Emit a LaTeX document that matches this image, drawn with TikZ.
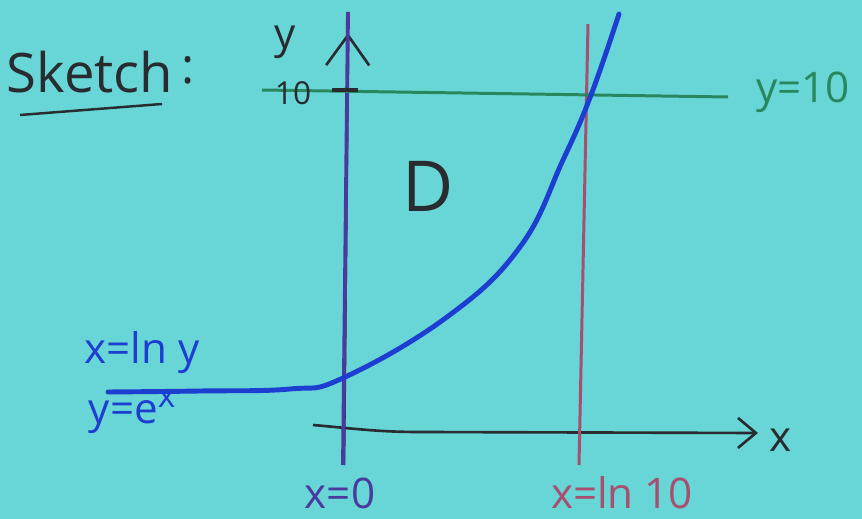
\documentclass[tikz,border=0pt]{standalone}
\usepackage{fontspec}
\setmainfont{Open Sans}
\usetikzlibrary{arrows.meta, positioning}
\definecolor{paper}{RGB}{104,214,214}
\definecolor{ink}{RGB}{40,44,48}
\definecolor{axisviolet}{RGB}{74,58,160}
\definecolor{levelgreen}{RGB}{40,135,92}
\definecolor{boundred}{RGB}{168,78,110}
\definecolor{curveblue}{RGB}{30,62,210}

\begin{document}
\begin{tikzpicture}[
    x=0.02cm, y=-0.02cm,
    thick,
    hand/.style={inner sep=0pt, font=\fontsize{24}{24}\selectfont},
    axis line/.style={draw=ink, line width=1.5pt},
    bound line/.style={line width=1.7pt}
]

\useasboundingbox (0,0) rectangle (862,519);
\fill[paper] (0,0) rectangle (862,519);

% title
\node[hand, text=ink, font=\fontsize{31}{31}\selectfont] (title) at (90,72) {Sketch};
\node[hand, text=ink, font=\fontsize{28}{28}\selectfont] (colon) at (188,70) {:};
\coordinate (ul start) at (20,115);
\coordinate (ul end) at (162,104);
\draw[ink, line width=1.4pt] (ul start) -- (ul end);

% axes
\coordinate (ybot) at (344,465);
\coordinate (ytip) at (348,33);
\coordinate (xstart) at (313,425);
\coordinate (xmid) at (420,432);
\coordinate (xtip) at (758,433);
\draw[axis line, -{Straight Barb[length=0.6cm, width=0.86cm]}] (ybot) -- (ytip);
\draw[axis line, -{Straight Barb[length=0.36cm, width=0.6cm]}] (xstart) to[out=-5, in=180] (xmid) -- (xtip);

% boundaries of D
\coordinate (x0 top) at (348,12);
\coordinate (x0 bot) at (343,465);
\draw[bound line, axisviolet, line width=2.2pt] (x0 bot) -- (x0 top);

\coordinate (ln top) at (588,24);
\coordinate (ln bot) at (579,465);
\draw[bound line, boundred] (ln bot) -- (ln top);

\coordinate (lvl start) at (262,90);
\coordinate (lvl end) at (728,97);
\draw[bound line, levelgreen] (lvl start) -- (lvl end);
\coordinate (tick l) at (332,90);
\coordinate (tick r) at (358,90);
\draw[ink, line width=2pt] (tick l) -- (tick r);

% the curve
\draw[curveblue, line width=2.8pt, line cap=round] plot[smooth, tension=0.7] coordinates {
    (108,392) (200,391) (290,389) (343,378)
    (447,317) (520,247) (563,160) (591,95) (619,14)};

% labels
\node[hand, text=ink] (ylab) at (285,42) {y};
\node[hand, text=ink, font=\fontsize{18}{18}\selectfont] (tenlab) at (293,93) {10};
\node[hand, text=ink] (xlab) at (781,440) {x};
\node[hand, text=ink, font=\fontsize{40}{40}\selectfont] (region) at (428,186) {D};
\node[hand, text=levelgreen] (lvllab) at (803,92) {y=10};
\node[hand, text=curveblue] (inv) at (142,353) {x=ln y};
\node[hand, text=curveblue] (expo) at (132,412) {y=e\raisebox{0.7ex}{\fontsize{19}{19}\selectfont x}};
\node[hand, text=axisviolet] (x0lab) at (340,493) {x=0};
\node[hand, text=boundred] (lnlab) at (622,493) {x=ln 10};

\end{tikzpicture}
\end{document}
